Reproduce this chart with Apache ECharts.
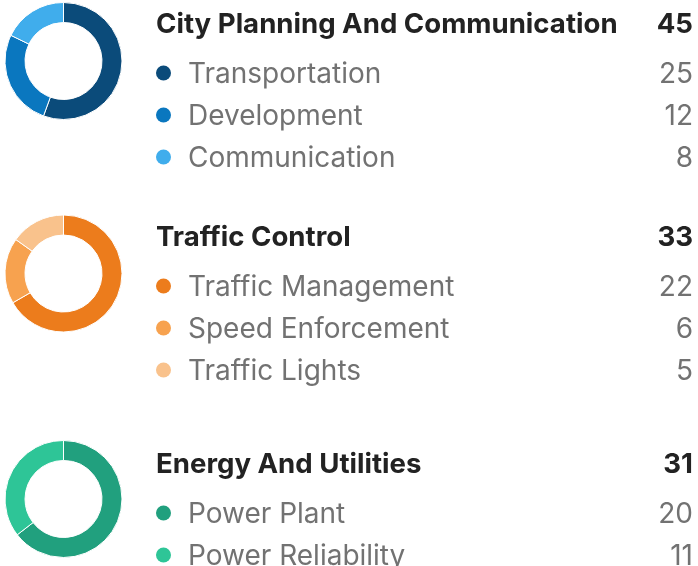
<!DOCTYPE html>
<html>
<head>
<meta charset="utf-8">
<script src="https://cdn.jsdelivr.net/npm/echarts@6/dist/echarts.min.js"></script>
<style>
  html, body { margin: 0; padding: 0; background: #ffffff; }
  #chart { width: 698px; height: 566px; }
</style>
</head>
<body>
<div id="chart"></div>
<script>
// Groups, their sub-categories and counts
const groupNames = ['City Planning And Communication', 'Traffic Control', 'Energy And Utilities'];
const cityLabels = ['Transportation', 'Development', 'Communication'];
const cityValues = [25, 12, 8];
const trafficLabels = ['Traffic Management', 'Speed Enforcement', 'Traffic Lights'];
const trafficValues = [22, 6, 5];
const energyLabels = ['Power Plant', 'Power Reliability'];
const energyValues = [20, 11];

const cityColors = ['#0b4b7a', '#0a77bf', '#40adec'];
const trafficColors = ['#ec7c1c', '#f7a24f', '#f9c28c'];
const energyColors = ['#21a07e', '#2ec597'];

const groups = [
  { name: groupNames[0], labels: cityLabels, values: cityValues, colors: cityColors, cy: 61, titleY: 23 },
  { name: groupNames[1], labels: trafficLabels, values: trafficValues, colors: trafficColors, cy: 273.5, titleY: 236 },
  { name: groupNames[2], labels: energyLabels, values: energyValues, colors: energyColors, cy: 499, titleY: 463 }
];

const FONT = 'Inter, "Noto Sans", sans-serif';
const ROW = 42;
const RIGHT_X = 693;
const TEXT_NUDGE = 2; // baseline tweak so glyph centres line up with the dots

const series = groups.map(g => ({
  type: 'pie',
  radius: [38.5, 58.5],
  center: [63.5, g.cy],
  startAngle: 90,
  clockwise: true,
  silent: true,
  label: { show: false },
  labelLine: { show: false },
  itemStyle: { borderColor: '#ffffff', borderWidth: 1 },
  data: g.values.map((v, i) => ({ name: g.labels[i], value: v, itemStyle: { color: g.colors[i] } }))
}));

const graphics = [];
groups.forEach(g => {
  const total = g.values.reduce((a, b) => a + b, 0);
  graphics.push({
    type: 'text', x: 156, y: g.titleY + TEXT_NUDGE, silent: true,
    style: { text: g.name, font: 'bold 27.6px ' + FONT, fill: '#222222', align: 'left', verticalAlign: 'middle' }
  });
  graphics.push({
    type: 'text', x: RIGHT_X, y: g.titleY + TEXT_NUDGE, silent: true,
    style: { text: String(total), font: 'bold 27.6px ' + FONT, fill: '#222222', align: 'right', verticalAlign: 'middle' }
  });
  g.labels.forEach((lab, i) => {
    const y = g.titleY + 50 + i * ROW;
    graphics.push({
      type: 'circle', silent: true,
      shape: { cx: 163.5, cy: y, r: 7.5 },
      style: { fill: g.colors[i] }
    });
    graphics.push({
      type: 'text', x: 188, y: y + TEXT_NUDGE, silent: true,
      style: { text: lab, font: '28px ' + FONT, fill: '#727272', align: 'left', verticalAlign: 'middle' }
    });
    graphics.push({
      type: 'text', x: RIGHT_X, y: y + TEXT_NUDGE, silent: true,
      style: { text: String(g.values[i]), font: '28px ' + FONT, fill: '#727272', align: 'right', verticalAlign: 'middle' }
    });
  });
});

const chart = echarts.init(document.getElementById('chart'), null, { renderer: 'canvas' });
chart.setOption({
  animation: false,
  backgroundColor: '#ffffff',
  series: series,
  graphic: graphics
});
</script>
</body>
</html>
